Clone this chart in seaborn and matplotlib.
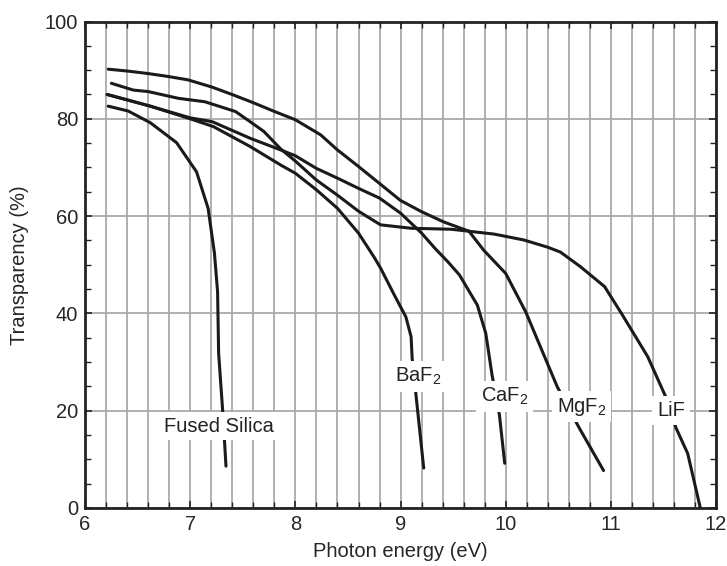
import matplotlib
matplotlib.use("Agg")
import matplotlib.pyplot as plt
import seaborn as sns
import pandas as pd
from matplotlib.ticker import MultipleLocator

# ---- data ----
silica_x = [6.22, 6.41, 6.62, 6.87, 7.06, 7.17, 7.23, 7.26, 7.27, 7.31, 7.34]
silica_y = [82.6, 81.6, 79.2, 75.1, 69.1, 61.6, 52.4, 44.5, 31.8, 19.5, 8.6]

mgf2_x = [6.22, 6.41, 6.60, 6.79, 6.98, 7.21, 7.41, 7.60, 7.79, 8.00, 8.24, 8.40,
          8.60, 8.80, 9.00, 9.20, 9.41, 9.65, 9.79, 10.00, 10.19, 10.49, 10.70, 10.93]
mgf2_y = [90.2, 89.8, 89.3, 88.7, 88.0, 86.5, 84.9, 83.3, 81.6, 79.8, 76.7, 73.6,
          70.2, 66.7, 63.2, 60.9, 58.8, 56.9, 53.0, 48.2, 40.3, 24.9, 16.4, 7.7]

lif_x = [6.25, 6.46, 6.60, 6.89, 7.14, 7.43, 7.57, 7.70, 7.86, 8.00, 8.20, 8.40,
         8.60, 8.81, 9.10, 9.48, 9.89, 10.17, 10.40, 10.52, 10.71, 10.94, 11.10,
         11.35, 11.52, 11.62, 11.73, 11.85]
lif_y = [87.3, 85.9, 85.6, 84.2, 83.5, 81.5, 79.4, 77.4, 73.8, 71.3, 67.4, 64.3,
         61.0, 58.2, 57.5, 57.3, 56.3, 55.1, 53.6, 52.6, 49.6, 45.5, 40.0,
         31.1, 22.9, 16.4, 11.2, 0.0]

caf2_x = [6.21, 6.62, 7.00, 7.21, 7.57, 7.86, 8.00, 8.20, 8.40, 8.60, 8.80, 9.00,
          9.20, 9.33, 9.45, 9.56, 9.73, 9.81, 9.87, 9.94, 9.99]
caf2_y = [85.0, 82.6, 80.2, 79.4, 76.0, 73.6, 72.4, 69.8, 67.8, 65.7, 63.7, 60.6,
          56.5, 53.3, 50.6, 47.9, 41.7, 35.9, 27.3, 19.1, 9.2]

baf2_x = [6.21, 6.62, 7.00, 7.22, 7.57, 7.86, 8.00, 8.20, 8.40, 8.60, 8.75, 8.81,
          8.94, 9.05, 9.10, 9.11, 9.15, 9.22]
baf2_y = [85.0, 82.6, 80.0, 78.4, 74.3, 70.5, 68.8, 65.4, 61.6, 56.5, 51.5, 49.3,
          43.8, 39.3, 35.2, 30.8, 22.5, 8.2]

labels = ["Fused Silica", "BaF$_2$", "CaF$_2$", "MgF$_2$", "LiF"]
label_x = [7.27, 9.17, 9.99, 10.72, 11.57]
label_y = [15.7, 26.0, 21.9, 19.8, 18.9]   # text baselines

series = [("Fused Silica", silica_x, silica_y),
          ("MgF2", mgf2_x, mgf2_y),
          ("LiF", lif_x, lif_y),
          ("CaF2", caf2_x, caf2_y),
          ("BaF2", baf2_x, baf2_y)]

x_label = "Photon energy (eV)"
y_label = "Transparency (%)"

# ---- style ----
sns.set_style("white")
plt.rcParams["font.family"] = ["Liberation Sans", "DejaVu Sans"]
plt.rcParams["mathtext.default"] = "regular"

FS = 14.5
fig = plt.figure(figsize=(7.27, 5.66), dpi=100)
ax = fig.add_axes([0.117, 0.1025, 0.868, 0.8595])

line_color = "#1a1a1a"
for name, xs, ys in series:
    df = pd.DataFrame({"x": xs, "y": ys})
    sns.lineplot(data=df, x="x", y="y", ax=ax, sort=False, estimator=None,
                 color=line_color, linewidth=2.2, zorder=3)

for txt, lx, ly in zip(labels, label_x, label_y):
    ax.text(lx, ly, txt, ha="center", va="baseline", fontsize=FS, color="#222222",
            zorder=5, bbox=dict(facecolor="white", edgecolor="none", pad=3.5))

ax.set_xlim(6, 12)
ax.set_ylim(0, 100)
ax.xaxis.set_major_locator(MultipleLocator(1))
ax.xaxis.set_minor_locator(MultipleLocator(0.2))
ax.yaxis.set_major_locator(MultipleLocator(20))
ax.yaxis.set_minor_locator(MultipleLocator(5))

ax.set_axisbelow(True)
ax.grid(which="major", axis="both", color="#aaaaaa", linewidth=1.3)
ax.grid(which="minor", axis="x", color="#aaaaaa", linewidth=1.3)

ax.tick_params(which="both", direction="in", top=True, right=True,
               bottom=True, left=True, color="#222222")
ax.tick_params(which="major", length=5, width=1.2, labelsize=FS, pad=5)
ax.tick_params(which="minor", length=4, width=1.0)

for sp in ax.spines.values():
    sp.set_visible(True)
    sp.set_color("#222222")
    sp.set_linewidth(2.0)

ax.set_xlabel(x_label, fontsize=FS, labelpad=6)
ax.set_ylabel(y_label, fontsize=FS, labelpad=11)

fig.savefig("out.png", dpi=100)
